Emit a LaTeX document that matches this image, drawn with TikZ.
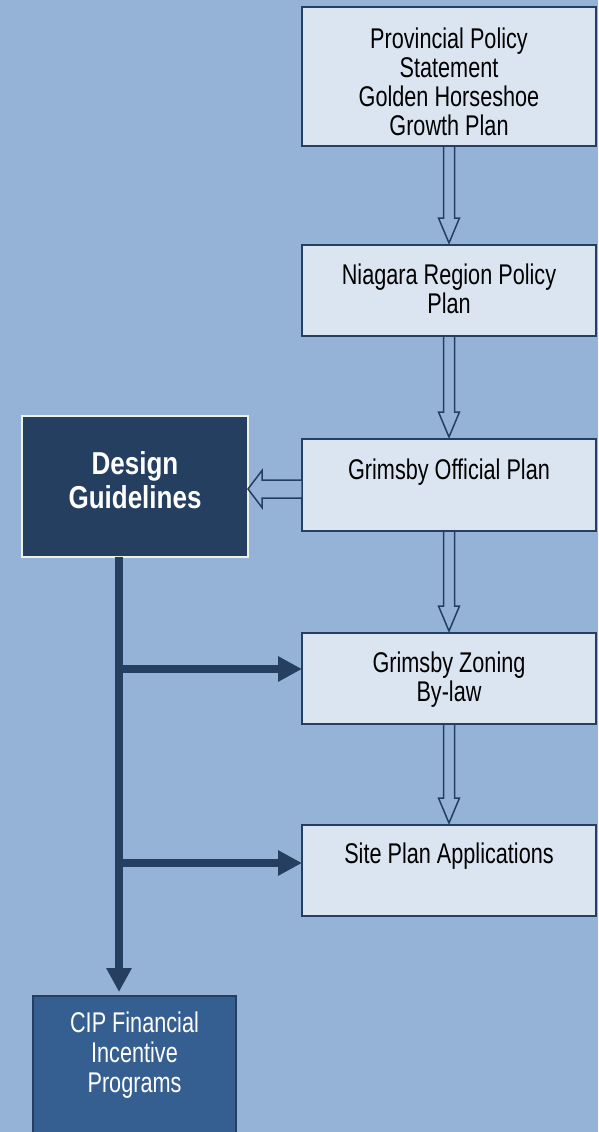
\documentclass[tikz,border=0pt]{standalone}
\usepackage{fontspec}
\setmainfont{Liberation Sans}[FakeStretch=0.76]
\newfontfamily\guidefont{Liberation Sans}[FakeStretch=0.82]
\usetikzlibrary{arrows.meta,calc}
\definecolor{bgblue}{HTML}{95B3D7}
\definecolor{paleblue}{HTML}{DBE5F1}
\definecolor{navy}{HTML}{243F60}
\definecolor{midblue}{HTML}{365F91}
\definecolor{paleedge}{HTML}{EEF2E2}

\begin{document}
\begin{tikzpicture}[x=1pt,y=-1pt,
    every node/.style={inner sep=0pt,outer sep=0pt},
    planbox/.style={draw=navy,line width=1.5pt,fill=paleblue,anchor=north west,minimum width=294pt},
    planlabel/.style={anchor=base,align=center,font=\fontsize{28.5}{29}\selectfont},
    downarrow/.style={draw=navy,line width=1.5pt,fill=bgblue,
      to path={let \p1=(\tikztostart), \p2=(\tikztotarget) in
        (\x1-5.5pt,\y1) -- (\x1-5.5pt,\y2+25pt) -- (\x1-10.5pt,\y2+25pt) -- (\x1,\y2)
        -- (\x1+10.5pt,\y2+25pt) -- (\x1+5.5pt,\y2+25pt) -- (\x1+5.5pt,\y1) -- cycle}},
    leftarrow/.style={draw=navy,line width=1.5pt,fill=bgblue,
      to path={let \p1=(\tikztostart), \p2=(\tikztotarget) in
        (\x1,\y1+9pt) -- (\x2+14pt,\y1+9pt) -- (\x2+14pt,\y1+18.5pt) -- (\x2,\y1)
        -- (\x2+14pt,\y1-18.5pt) -- (\x2+14pt,\y1-9pt) -- (\x1,\y1-9pt) -- cycle}},
    feed/.style={draw=navy,line width=8.5pt,-{Triangle[width=24pt,length=24pt]}}]
  \useasboundingbox (0,0) rectangle (598,1132);
  \fill[bgblue] (0,0) rectangle (598,1132);

  \node[planbox,minimum height=139pt] (pps) at (302,7) {};
  \node[planlabel] (ppsText) at ([yshift=-128pt]pps.north) {Provincial Policy\\Statement\\Golden Horseshoe\\Growth Plan};
  \node[planbox,minimum height=91pt] (niagara) at (302,245) {};
  \node[planlabel] (niagaraText) at ([yshift=-68pt]niagara.north) {Niagara Region Policy\\Plan};
  \node[planbox,minimum height=92pt] (official) at (302,439) {};
  \node[planlabel] (officialText) at ([yshift=-40pt]official.north) {Grimsby Official Plan};
  \node[planbox,minimum height=91pt] (zoning) at (302,633) {};
  \node[planlabel] (zoningText) at ([yshift=-68pt]zoning.north) {Grimsby Zoning\\By-law};
  \node[planbox,minimum height=91pt] (site) at (302,825) {};
  \node[planlabel] (siteText) at ([yshift=-38pt]site.north) {Site Plan Applications};

  \node[draw=paleedge,line width=1.5pt,fill=navy,anchor=north west,minimum width=226pt,minimum height=141pt] (guide) at (22,416) {};
  \node[anchor=base,align=center,text=white,font=\guidefont\bfseries\fontsize{31.7}{34}\selectfont] (guideText) at ([yshift=-92pt]guide.north) {Design\\Guidelines};
  \node[draw=navy,line width=1.5pt,fill=midblue,anchor=north west,minimum width=203pt,minimum height=150pt] (cip) at (33,996) {};
  \node[planlabel,font=\fontsize{28.5}{30}\selectfont,text=white] (cipText) at ([yshift=-96pt]cip.north) {CIP Financial\\Incentive\\Programs};

  \draw[downarrow] (pps.south) to ([yshift=2pt]niagara.north);
  \draw[downarrow] (niagara.south) to ([yshift=2pt]official.north);
  \draw[downarrow] (official.south) to ([yshift=2pt]zoning.north);
  \draw[downarrow] (zoning.south) to ([yshift=2pt]site.north);
  \draw[leftarrow] ([yshift=-4pt]official.west) to ([yshift=-2.5pt]guide.east);

  \coordinate (trunk) at ([xshift=-16pt]guide.south);
  \coordinate (zoningTap) at (119,669);
  \coordinate (siteTap) at (119,863);
  \draw[feed] (trunk) -- ([yshift=4pt]trunk |- cip.north);
  \draw[feed] (zoningTap) -- (zoningTap -| zoning.west);
  \draw[feed] (siteTap) -- (siteTap -| site.west);
\end{tikzpicture}
\end{document}
